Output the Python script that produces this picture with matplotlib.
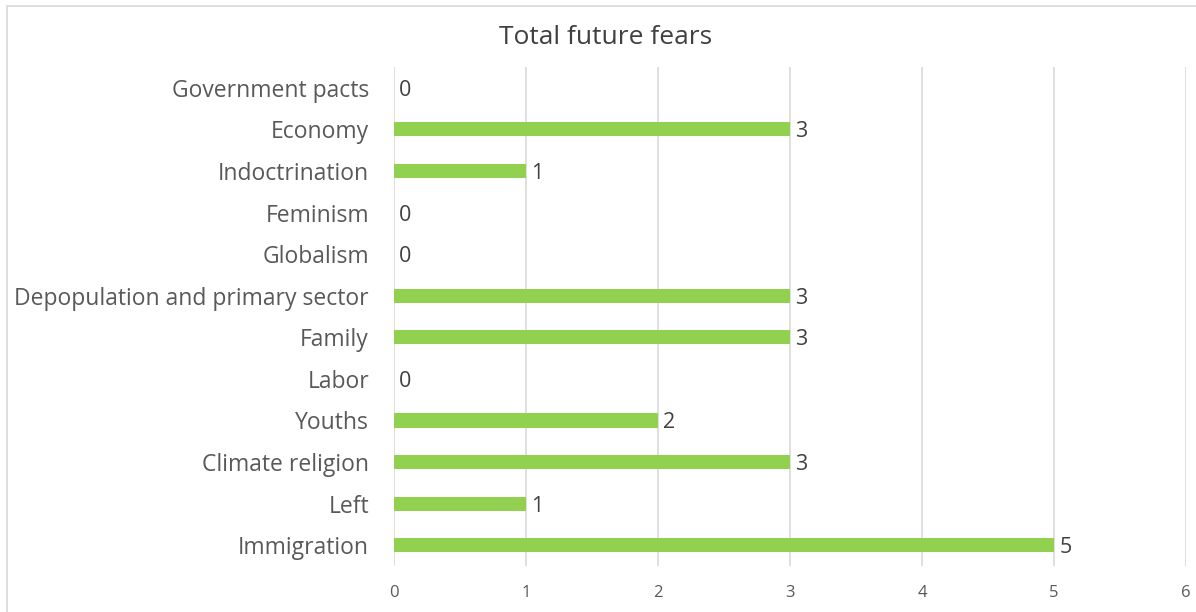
import matplotlib
matplotlib.use("Agg")
import matplotlib.pyplot as plt
from matplotlib.patches import Rectangle

categories = ["Immigration", "Left", "Climate religion", "Youths", "Labor", "Family",
              "Depopulation and primary sector", "Globalism", "Feminism",
              "Indoctrination", "Economy", "Government pacts"]
values = [5, 1, 3, 2, 0, 3, 3, 0, 0, 1, 3, 0]
xticks = [0, 1, 2, 3, 4, 5, 6]

plt.rcParams["font.family"] = ["Open Sans", "DejaVu Sans"]

fig = plt.figure(figsize=(11.96, 6.12), dpi=100)
ax = fig.add_axes([394 / 1196, 1 - 566 / 612, (1186 - 394) / 1196, 499 / 612])

# chart-area frame
fig.patches.append(Rectangle((7 / 1196, -0.01), 1.2, 1 - 6 / 612 + 0.01,
                             transform=fig.transFigure, fill=False,
                             edgecolor="#d9d9d9", lw=1.2))

y = range(len(categories))
ax.barh(y, values, height=0.34, color="#92d050", zorder=3)
for yi, v in zip(y, values):
    ax.text(v + 0.04, yi - 0.06, str(v), va="center", ha="left", fontsize=15.5,
            color="#404040")

ax.set_xlim(0, 6)
ax.set_ylim(-0.5, len(categories) - 0.5)
ax.set_xticks(xticks)
ax.set_yticks(list(y))
ax.set_yticklabels(categories)
ax.xaxis.grid(True, color="#d9d9d9", lw=1.2, zorder=0)
for s in ax.spines.values():
    s.set_visible(False)
ax.tick_params(axis="both", length=0, colors="#595959", labelsize=16.5)
ax.tick_params(axis="x", pad=14, labelsize=12)
ax.tick_params(axis="y", pad=18)

fig.text(606 / 1196, 1 - 37 / 612, "Total future fears", ha="center", va="center",
         fontsize=19, color="#404040")

fig.savefig("out.png", dpi=100)
